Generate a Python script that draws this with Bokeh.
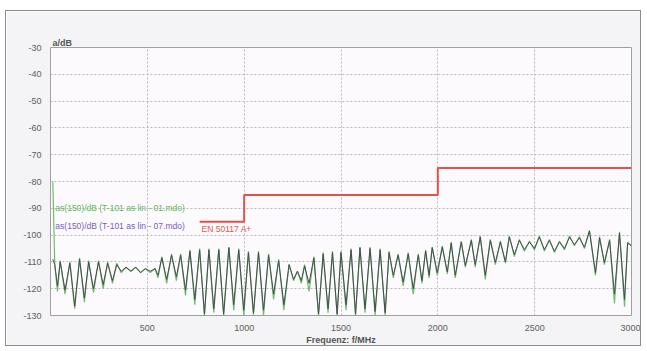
from bokeh.plotting import figure
from bokeh.models import Range1d, FixedTicker, Label, Title
from bokeh.embed import file_html
from bokeh.resources import INLINE

# ---- data ----
freq = [12, 22, 36, 50, 75, 100, 125, 150, 175, 197,
        222, 248, 272, 295, 320, 342, 365, 390, 415, 440,
        465, 490, 515, 540, 555, 575, 600, 625, 650, 672,
        697, 720, 745, 770, 795, 818, 843, 869, 894, 921,
        946, 972, 998, 1022, 1048, 1074, 1100, 1126, 1152, 1178,
        1205, 1232, 1255, 1275, 1295, 1312, 1335, 1360, 1384, 1408,
        1433, 1456, 1480, 1500, 1526, 1552, 1575, 1598, 1624, 1650,
        1676, 1702, 1728, 1748, 1770, 1795, 1821, 1847, 1873, 1899,
        1918, 1937, 1955, 1971, 1997, 2023, 2049, 2069, 2090, 2121,
        2142, 2173, 2193, 2219, 2245, 2271, 2297, 2323, 2349, 2369,
        2395, 2421, 2447, 2473, 2499, 2524, 2550, 2576, 2602, 2628,
        2654, 2680, 2705, 2731, 2757, 2783, 2814, 2835, 2860, 2887,
        2912, 2938, 2964, 2980, 3000]

as_07 = [-109, -111, -119, -110, -120.5, -110.5, -126.5, -109, -123.5, -110,
         -120, -110, -118.5, -110.5, -117, -111, -113.5, -112, -113.5, -112,
         -114, -112.5, -113.5, -112.5, -115, -108.5, -116.5, -107.5, -115.5, -107.5,
         -120.5, -106, -124, -105.5, -129.5, -105.5, -127.5, -105.5, -129.5, -104.7,
         -126, -105.5, -128, -106.5, -129, -106.5, -128, -107.5, -122, -109.5,
         -126, -111, -116.5, -113.5, -117, -111.5, -118, -108.5, -129.5, -107,
         -127.5, -106.5, -129.5, -106.5, -126, -105.5, -129.5, -104.7, -127.5, -105,
         -128.5, -105.5, -129, -106.5, -115, -107.5, -117.5, -107, -120, -107.5,
         -117, -106, -115, -104.7, -114, -104.5, -113.7, -103, -115, -102.6,
         -111.3, -102, -111, -100.7, -115, -102, -110.2, -102.6, -110, -100.7,
         -107.3, -102, -105.4, -102.6, -105, -100.7, -105.4, -102, -106, -102.6,
         -105, -100.7, -103.6, -101, -104.5, -98.5, -114, -101, -110.2, -102,
         -122, -99.2, -124, -103, -104]

as_01 = [-80, -111, -121, -109.5, -122, -110, -127.5, -108.5, -125, -109.5,
         -121.5, -109.5, -120, -110, -118, -110.5, -114, -112, -113.5, -112,
         -114, -112.5, -114, -112.5, -116, -108, -118, -107, -117, -107,
         -122.5, -105.5, -126, -105, -130, -105, -129, -105, -130, -104.5,
         -128, -105, -130, -106, -130, -106, -130, -107, -124, -109,
         -128, -111, -117, -113.5, -118, -111, -121, -108, -130, -106.5,
         -129, -106, -130, -106, -128, -105, -130, -104.5, -129, -104.5,
         -130, -105, -130, -106, -116, -107, -119, -106.5, -122, -107,
         -118, -105.5, -116, -104.5, -115, -104, -114.5, -102.5, -116, -102.2,
         -112, -101.6, -112, -100.3, -116.5, -101.6, -111, -102.2, -110.5, -100.3,
         -108, -101.6, -106, -102.2, -105.5, -100.3, -106, -101.6, -106.5, -102.2,
         -105.5, -100.3, -104, -100.6, -105, -98.2, -115, -100.6, -111, -101.6,
         -125.5, -98.8, -126.7, -102.6, -104]

limit_f = [770, 1000, 2000, 3000]
limit_db = [-95, -85, -75, -75]

x_ticks = [500, 1000, 1500, 2000, 2500, 3000]
y_ticks = [-30, -40, -50, -60, -70, -80, -90, -100, -110, -120, -130]

label_01 = "as(150)/dB (T-101 as lin - 01.mdo)"
label_07 = "as(150)/dB (T-101 as lin - 07.mdo)"
label_limit = "EN 50117 A+"
y_title = "a/dB"
x_title = "Frequenz: f/MHz"

FONT = "Liberation Sans"

p = figure(width=636, height=336, output_backend="svg", toolbar_location=None,
           x_range=Range1d(0, 3000), y_range=Range1d(-130, -30),
           min_border_left=44, min_border_right=11, min_border_top=36,
           min_border_bottom=27)
p.margin = (10, 0, 0, 5)
p.styles = {"border": "1px solid #8c8c8c", "box-sizing": "border-box"}

p.border_fill_color = "#f4f3f5"
p.background_fill_color = "#fcfafc"
p.outline_line_color = "#a0a0a0"
p.outline_line_width = 1

p.add_layout(Title(text=y_title, align="left", text_font=FONT,
                   text_font_size="9px", text_font_style="bold",
                   text_color="#555555", offset=2, standoff=0), "above")

p.xaxis.ticker = FixedTicker(ticks=x_ticks)
p.yaxis.ticker = FixedTicker(ticks=y_ticks)
p.xaxis.major_label_overrides = {t: str(t) for t in x_ticks}
p.yaxis.major_label_overrides = {t: str(t) for t in y_ticks}
for ax in (p.xaxis[0], p.yaxis[0]):
    ax.axis_line_color = None
    ax.major_tick_line_color = None
    ax.minor_tick_line_color = None
    ax.major_label_text_font = FONT
    ax.major_label_text_font_size = "9px"
    ax.major_label_text_color = "#606060"
    ax.major_label_standoff = 3
p.xaxis.axis_label = x_title
p.xaxis.axis_label_text_font = FONT
p.xaxis.axis_label_text_font_size = "9px"
p.xaxis.axis_label_text_font_style = "bold"
p.xaxis.axis_label_text_color = "#555555"
p.xaxis.axis_label_standoff = 1

p.xgrid.ticker = FixedTicker(ticks=x_ticks[:-1])
p.ygrid.ticker = FixedTicker(ticks=y_ticks[1:-1])
for g in (p.xgrid[0], p.ygrid[0]):
    g.grid_line_color = "#b8b8b8"
    g.grid_line_dash = "2 2"
    g.grid_line_width = 1

p.line(freq, as_01, line_color="#6cbf6a", line_width=1.2)
p.line(freq, as_07, line_color="#4a4a55", line_width=1.0)
p.step(limit_f, limit_db, mode="after", line_color="#e0524c", line_width=2)

p.add_layout(Label(x=25, y=-90, text=label_01, text_font=FONT,
                   text_font_size="8.5px", text_color="#5cb85a",
                   text_baseline="middle"))
p.add_layout(Label(x=25, y=-96.7, text=label_07, text_font=FONT,
                   text_font_size="8.5px", text_color="#7a5cc8",
                   text_baseline="middle"))
p.add_layout(Label(x=limit_f[0], y=-95, x_offset=2, y_offset=-2, text=label_limit,
                   text_font=FONT, text_font_size="8.5px", text_color="#e0584f",
                   text_baseline="top"))

open("out.html", "w").write(file_html(p, INLINE))
